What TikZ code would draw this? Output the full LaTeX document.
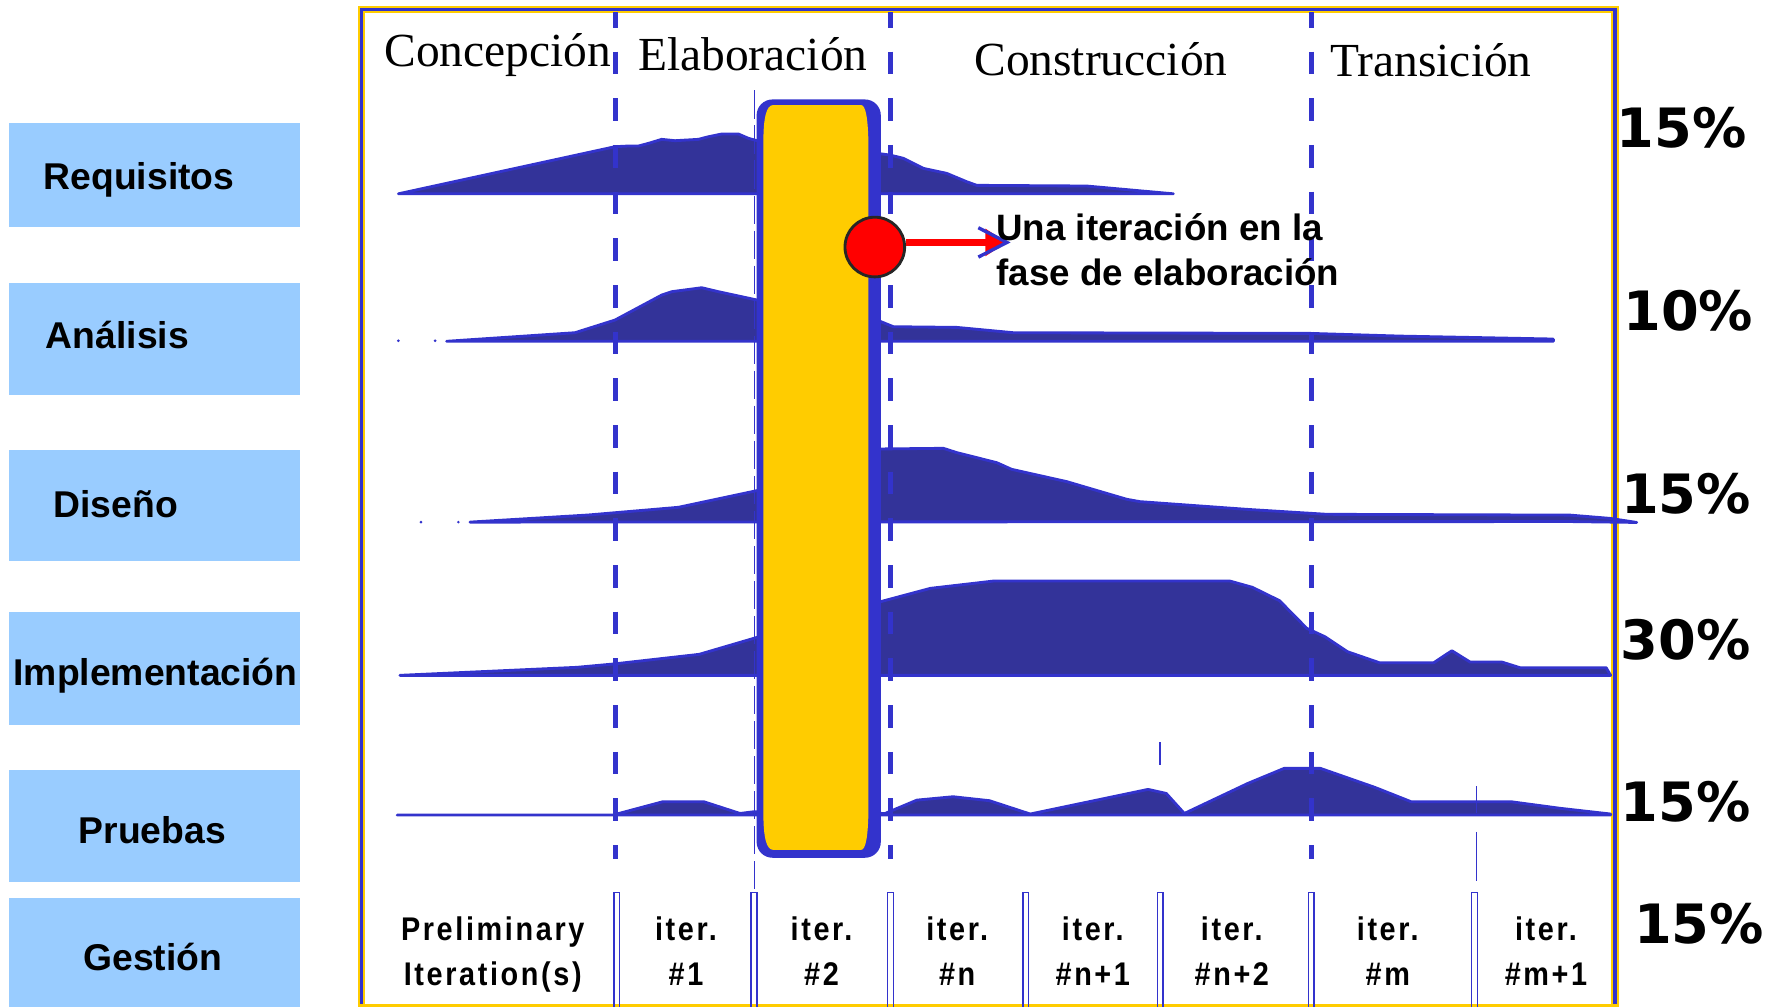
\documentclass[tikz,border=0pt]{standalone}
\usepackage{fontspec}
\setmainfont{Liberation Serif}
\newfontfamily\sansb{Liberation Sans}
\newfontfamily\iterf{Liberation Sans}[LetterSpace=8,FakeStretch=0.88]
\newfontfamily\pctf{DejaVu Sans}
\usetikzlibrary{arrows.meta}
\definecolor{boxblue}{HTML}{99CCFF}
\definecolor{curvefill}{HTML}{333399}
\definecolor{lineblue}{HTML}{3333CC}
\definecolor{gold}{HTML}{FFCC00}
\tikzset{
  lanebox/.style={fill=boxblue, draw=none, minimum width=257.2pt, inner sep=0},
  lanetext/.style={anchor=base west, inner sep=0, font=\sansb\bfseries\fontsize{33}{39}\selectfont},
  phasetitle/.style={anchor=base west, inner sep=0, font=\fontsize{42}{48}\selectfont},
  pct/.style={anchor=base, inner sep=0, font=\pctf\bfseries\fontsize{48}{56}\selectfont},
  iterlbl/.style={anchor=base, inner sep=0, font=\iterf\bfseries\fontsize{29}{32}\selectfont},
  callout/.style={anchor=base west, inner sep=0, font=\sansb\bfseries\fontsize{32.5}{39}\selectfont},
  effort/.style={fill=curvefill, draw=lineblue, line width=2.5pt, line join=round},
  phaseline/.style={lineblue, line width=4.5pt, dash pattern=on 20pt off 21.3pt, dash phase=6.6pt},
  sepbox/.style={draw=lineblue, line width=1.3pt},
  thinline/.style={lineblue, line width=1.4pt}
}
\begin{document}
\begin{tikzpicture}[x=1pt,y=-1pt]
\useasboundingbox (0,0) rectangle (1568,891);
% left lanes
\node[lanebox, minimum height=92.1pt] (reqB) at (136.9,155.05) {};
\node[lanebox, minimum height=98.8pt] (anaB) at (136.9,300.2) {};
\node[lanebox, minimum height=98.3pt] (disB) at (136.9,447.35) {};
\node[lanebox, minimum height=99.8pt] (impB) at (136.9,591.4) {};
\node[lanebox, minimum height=99.3pt] (pruB) at (136.9,730.95) {};
\node[lanebox, minimum height=100pt] (gesB) at (136.9,845) {};
\node[lanetext] (reqT) at (38.5,168) {Requisitos};
\node[lanetext] (anaT) at (40.5,308.6) {Análisis};
\node[lanetext] (disT) at (47.3,457.5) {Diseño};
\node[lanetext] (impT) at (11.8,607) {Implementación};
\node[lanetext] (pruT) at (69.5,746) {Pruebas};
\node[lanetext] (gesT) at (73.5,859) {Gestión};
% frame
\draw[gold, line width=6.5pt] (320,895) -- (320,8.5) -- (1429,8.5) -- (1429,895);
\draw[lineblue, line width=3pt] (320,895) -- (320,8.5) -- (1429,8.5) -- (1429,895);
\draw[gold, line width=3pt] (318,889.5) -- (1431,889.5);
% effort curves
\draw[effort] (352.5,171.5) -- (544.2,129.8) -- (556,129.2) -- (564.9,129.2) -- (573.7,126.9) -- (585.5,123.3) -- (597.3,124.5) -- (618,123.3) -- (626.8,121) -- (638.6,118.6) -- (653.4,118.6) -- (662.3,122.4) -- (670,124.5) -- (776,135.7) -- (787.6,137.2) -- (799.3,140.1) -- (817.1,149) -- (837.7,153.4) -- (855.4,160.8) -- (864.3,164) -- (961.6,164.6) -- (1038.3,171.5) -- cycle;
\draw[effort] (395.2,302) -- (508.8,294.4) -- (544.2,283.2) -- (585.5,261.1) -- (594.4,258.1) -- (620.9,254.6) -- (635.7,258.1) -- (670,265.5) -- (776,283.2) -- (790.5,289.1) -- (846.6,289.7) -- (896.7,294.4) -- (1159.2,295) -- (1238.9,297.4) -- (1374.5,300) -- (1374.5,302) -- cycle;
\fill[lineblue] (352.5,301.5) circle (1.3) (385,301.5) circle (1.3) (372.5,462) circle (1.3) (405.6,462) circle (1.3);
\draw[effort] (415.9,462) -- (520.6,455.7) -- (600.3,448.9) -- (670,434.1) -- (776,397.3) -- (834.8,396.7) -- (846.6,400.5) -- (882,409.4) -- (895.2,415.3) -- (944,426.2) -- (997,441.8) -- (1008.8,443.9) -- (1103.2,450.7) -- (1174,455.1) -- (1389.3,455.8) -- (1424.7,458.7) -- (1448.3,462.3) -- (1389.3,461.5) -- cycle;
\draw[effort] (353.8,597.6) -- (510.3,590.5) -- (542.4,587.6) -- (618.7,579) -- (666.8,564.9) -- (779.2,532.4) -- (823.3,520.6) -- (879.5,514.1) -- (1088.1,514.1) -- (1108.2,519.7) -- (1132.2,531.5) -- (1156.3,556) -- (1172.4,563.4) -- (1192.4,576.7) -- (1220.5,586.4) -- (1268.7,586.4) -- (1284.7,575.8) -- (1300.8,585.8) -- (1328.9,585.8) -- (1344.9,590.8) -- (1421.2,590.8) -- (1425.2,597.6) -- cycle;
\draw[effort] (351.4,721.2) -- (542.4,721.2) -- (586.6,709.4) -- (622.7,709.4) -- (654.8,719.8) -- (666.8,718.3) -- (783.2,719.8) -- (811.3,708) -- (843.3,705) -- (875.5,708.5) -- (911.6,720.3) -- (1015.9,698.5) -- (1032,702.1) -- (1048,719.8) -- (1104.2,693.2) -- (1136.3,679.9) -- (1168.4,679.9) -- (1216.5,696.7) -- (1248.6,709.4) -- (1336.9,709.4) -- (1381,715.3) -- (1425.2,720.3) -- (1425.2,721.2) -- cycle;
% thin lines
\draw[thinline, dash pattern=on 25pt off 6pt] (667.5,80) -- (667.5,789);
\draw[thinline] (1026.3,657) -- (1026.3,677);
\draw[thinline] (1306.4,695.6) -- (1306.4,719);
\draw[thinline] (1306.4,736) -- (1306.4,780);
% phase dashed lines
\draw[phaseline] (544.6,11) -- (544.6,760);
\draw[phaseline] (787.6,11) -- (787.6,760);
\draw[phaseline] (1160.7,11) -- (1160.7,760);
% iteration separators
\foreach \sx in {545.6,667.2,788,907.6,1026.8,1160.3,1304.8}
  \draw[sepbox] (\sx-2.5,892) -- (\sx-2.5,789.6) -- (\sx+2.5,789.6) -- (\sx+2.5,892);
% iteration box
\node[fill=lineblue, draw=none, rounded corners=14pt, minimum width=109.9pt, minimum height=671pt, inner sep=0] (iterbox) at (724.45,423.5) {};
\fill[gold] (684,93) -- (762,93) .. controls (766,93) and (768,105) .. (768.4,125) -- (768.4,720) .. controls (768,740) and (766,752) .. (762,752) -- (684,752) .. controls (678,752) and (675.5,740) .. (675.5,720) -- (675.5,125) .. controls (675.5,105) and (678,93) .. (684,93) -- cycle;
% red marker and arrow
\node[circle, fill=red, draw=black!85, line width=2.5pt, minimum size=52.8pt, inner sep=0] (dot) at (774.1,218.6) {};
\coordinate (tip) at (891,214.5);
\draw[red, line width=6pt, -{Triangle[length=19pt,width=23pt]}] (dot.east |- tip) -- (tip);
\draw[lineblue, line width=3pt] (865.7,201.5) -- (tip) -- (865.7,227.5);
\node[callout] (callA) at (881.5,213) {Una iteración en la};
\node[callout] (callB) at (881.5,252.2) {fase de elaboración};
% phase titles
\node[phasetitle] (tConc) at (340,59) {Concepción};
\node[phasetitle] (tElab) at (564.5,62) {Elaboración};
\node[phasetitle] (tCons) at (862,66.4) {Construcción};
\node[phasetitle] (tTran) at (1177,67.3) {Transición};
% percentages
\node[pct] (p1) at (1487.9,130.4) {15\%};
\node[pct] (p2) at (1494,292.1) {10\%};
\node[pct] (p3) at (1492,454.3) {15\%};
\node[pct] (p4) at (1491.4,584) {30\%};
\node[pct] (p5) at (1491.4,727.1) {15\%};
\node[pct] (p6) at (1503.4,834.7) {15\%};
% iteration labels
\node[iterlbl] (preA) at (436,832.5) {Preliminary};
\node[iterlbl] (preB) at (436,872) {Iteration(s)};
\foreach \cx/\lb [count=\k] in {607/\#1,727/\#2,847/\#n,967/\#n+1,1090/\#n+2,1228/\#m,1368/\#m+1} {
  \node[iterlbl] (itA\k) at (\cx,832.5) {iter.};
  \node[iterlbl] (itB\k) at (\cx,872) {\lb};
}
\end{tikzpicture}
\end{document}
